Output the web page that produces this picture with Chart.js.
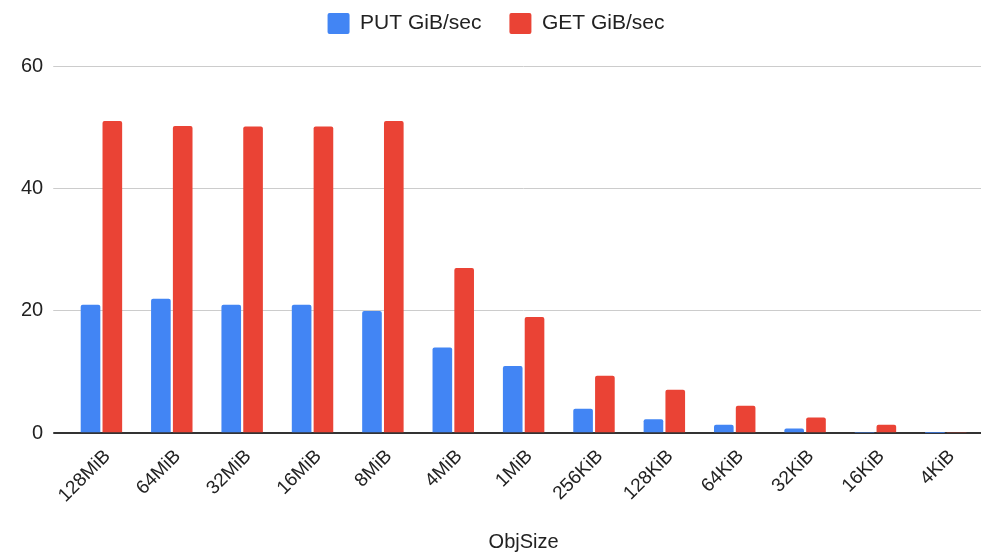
<!DOCTYPE html>
<html>
<head>
<meta charset="utf-8">
<script src="https://cdn.jsdelivr.net/npm/chart.js@4/dist/chart.umd.min.js"></script>
<style>
  html, body { margin: 0; padding: 0; background: #fff; }
  #wrap { width: 983px; height: 554px; }
</style>
</head>
<body>
<div id="wrap"><canvas id="chart" width="983" height="554"></canvas></div>
<script>
const objSizes = ['128MiB', '64MiB', '32MiB', '16MiB', '8MiB', '4MiB', '1MiB', '256KiB', '128KiB', '64KiB', '32KiB', '16KiB', '4KiB'];
const putSpeed = [21, 22, 21, 21, 20, 14, 11, 4, 2.3, 1.4, 0.8, 0.1, 0.02];
const getSpeed = [51, 50.2, 50.1, 50.1, 51, 27, 19, 9.4, 7.1, 4.5, 2.6, 1.4, 0.2];
const yTicks = [0, 20, 40, 60];

Chart.defaults.font.family = "'Liberation Sans', Arial, sans-serif";
Chart.defaults.color = '#222';

// legend: wide gap between items, but keep it near the top and leave room below
var legendSpace = {
    id: 'legendSpace',
    beforeInit: function (chart) {
        var fit = chart.legend.fit;
        chart.legend.fit = function () {
            fit.bind(chart.legend)();
            this.height += 7;
        };
    },
    afterLayout: function (chart) {
        chart.legend.top -= 15;
        chart.legend.bottom -= 15;
    }
};

var ctx = document.getElementById('chart').getContext('2d');
var chart = new Chart(ctx, {
    type: 'bar',
    data: {
        labels: objSizes,
        datasets: [{
            label: 'PUT GiB/sec',
            data: putSpeed,
            backgroundColor: '#4285F4',
            borderRadius: { topLeft: 2, topRight: 2 },
            borderSkipped: 'bottom'
        }, {
            label: 'GET GiB/sec',
            data: getSpeed,
            backgroundColor: '#EA4335',
            borderRadius: { topLeft: 2, topRight: 2 },
            borderSkipped: 'bottom'
        }]
    },
    plugins: [legendSpace],
    options: {
        responsive: false,
        animation: false,
        maintainAspectRatio: false,
        layout: { padding: { left: 11, right: 2, top: 0, bottom: 0 } },
        datasets: {
            bar: { categoryPercentage: 0.62, barPercentage: 0.9 }
        },
        plugins: {
            tooltip: { enabled: false },
            legend: {
                position: 'top',
                labels: {
                    boxWidth: 22,
                    boxHeight: 21,
                    padding: 28,
                    font: { size: 21 },
                    color: '#222',
                    useBorderRadius: true,
                    borderRadius: 2
                }
            }
        },
        scales: {
            x: {
                grid: { display: false },
                border: { display: false },
                ticks: {
                    minRotation: 45,
                    maxRotation: 45,
                    font: { size: 19 },
                    color: '#222',
                    padding: 4,
                    labelOffset: 6
                },
                title: {
                    display: true,
                    text: 'ObjSize',
                    font: { size: 20 },
                    color: '#222',
                    padding: { top: 19, bottom: 0 }
                }
            },
            y: {
                min: 0,
                max: 60,
                afterBuildTicks: function (axis) {
                    axis.ticks = yTicks.map(function (v) { return { value: v }; });
                },
                grid: {
                    color: function (c) { return c.tick && c.tick.value === 0 ? '#333' : '#ccc'; },
                    lineWidth: function (c) { return c.tick && c.tick.value === 0 ? 2 : 1; },
                    tickLength: 13,
                    drawTicks: true
                },
                border: { display: false },
                ticks: {
                    font: { size: 20 },
                    color: '#222',
                    padding: 10
                }
            }
        }
    }
});
</script>
</body>
</html>
